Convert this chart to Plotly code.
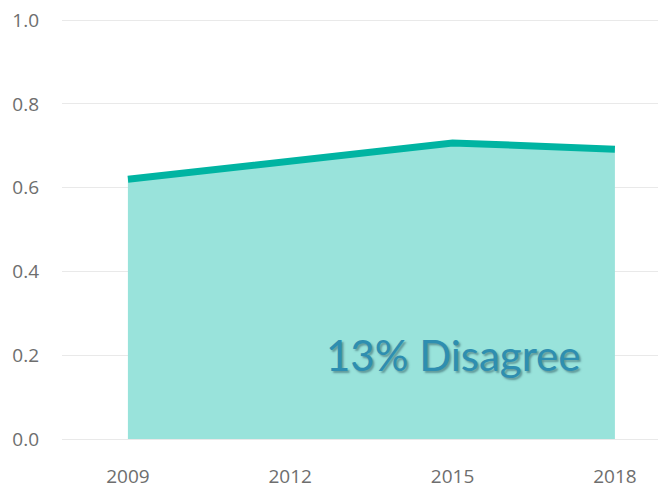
import plotly.graph_objects as go

years = ["2009", "2012", "2015", "2018"]
agree_share = [0.62, 0.665, 0.707, 0.692]
y_ticks = [0.0, 0.2, 0.4, 0.6, 0.8, 1.0]
label_text = "13% Disagree"

fig = go.Figure()
fig.add_trace(
    go.Scatter(
        x=years,
        y=agree_share,
        mode="lines",
        fill="tozeroy",
        fillcolor="rgb(153,227,219)",
        line={"color": "rgb(0,180,162)", "width": 7},
        showlegend=False,
    )
)

fig.add_annotation(
    x=2,
    y=0.2,
    xanchor="center",
    yanchor="middle",
    text=label_text,
    showarrow=False,
    font={
        "family": "Lato",
        "size": 42,
        "color": "rgb(46,142,176)",
        "weight": "normal",
        "shadow": "2px 2px 2px rgba(40,80,90,0.5)",
    },
)

# page body has an 8px margin, so the figure is offset by it
fig.update_layout(
    width=666,
    height=490,
    margin={"l": 54, "r": 0, "t": 8, "b": 59},
    paper_bgcolor="white",
    plot_bgcolor="white",
    font={"family": "Open Sans", "size": 19, "color": "#6e6e6e"},
    xaxis={
        "type": "category",
        "range": [-0.406, 3.364],
        "showgrid": False,
        "showline": False,
        "ticks": "",
        "ticklabelstandoff": 24,
    },
    yaxis={
        "range": [0, 1.01],
        "tickvals": y_ticks,
        "tickformat": ".1f",
        "ticklabeloverflow": "allow",
        "gridcolor": "#e9e9e9",
        "gridwidth": 1.2,
        "zeroline": True,
        "zerolinecolor": "#e9e9e9",
        "zerolinewidth": 1.2,
        "showline": False,
        "ticks": "",
        "ticklabelstandoff": 22,
    },
)

fig.write_html("out.html")
